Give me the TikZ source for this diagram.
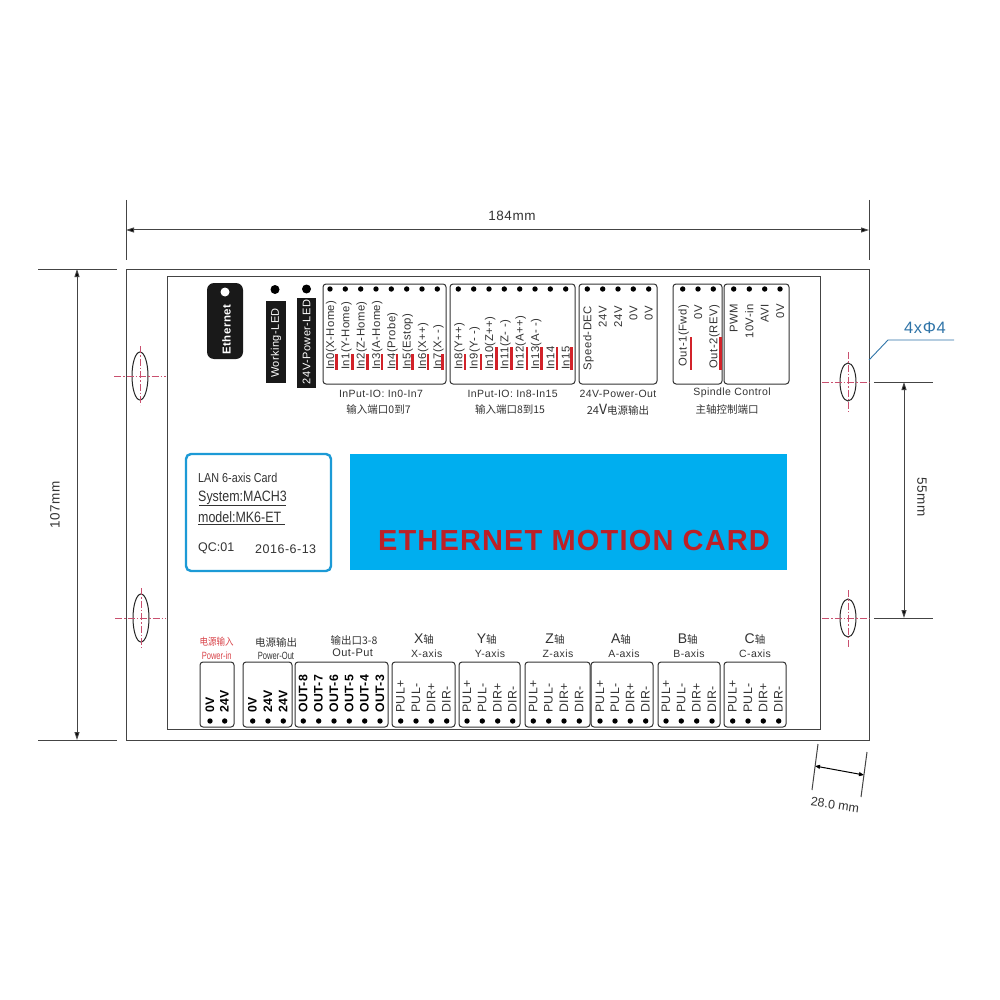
\documentclass[tikz,border=0pt]{standalone}
\usepackage{fontspec}
\usetikzlibrary{arrows.meta}
\setmainfont{Liberation Sans}
\newfontfamily\lbl[LetterSpace=4]{Liberation Sans}
\newfontfamily\narrowf[FakeStretch=0.72]{Liberation Sans}
\newfontfamily\cardf[FakeStretch=0.83]{Liberation Sans}
\newfontfamily\cjk{Noto Sans CJK SC}
\newfontfamily\cjkn[FakeStretch=0.85]{Noto Sans CJK SC}
\newcommand\fs[1]{\fontsize{#1}{#1}\selectfont}
\definecolor{edgeg}{HTML}{444444}
\definecolor{boxg}{HTML}{333333}
\definecolor{txtg}{HTML}{333333}
\definecolor{barred}{HTML}{D2232A}
\definecolor{cardblue}{HTML}{00AEEF}
\definecolor{labelblue}{HTML}{1C9AD6}
\definecolor{leaderblue}{HTML}{2F74A8}
\definecolor{centrecol}{HTML}{C9506F}
\tikzset{
  x=1pt,y=-1pt,
  outline/.style={draw=edgeg,line width=1pt},
  portbox/.style={draw=boxg,line width=1pt,rounded corners=3pt},
  pindot/.style={circle,fill=black,inner sep=0pt,minimum size=5.4pt},
  leddot/.style={circle,fill=black,inner sep=0pt,minimum size=9pt},
  pinup/.style={rotate=90,anchor=base west,inner sep=0pt,text=txtg,font=\lbl\fs{11.3}},
  pinend/.style={rotate=90,anchor=base east,inner sep=0pt,text=txtg,font=\lbl\fs{11.3}},
  pinbot/.style={rotate=90,anchor=base west,inner sep=0pt,text=txtg,font=\lbl\fs{12.3}},
  pinbold/.style={rotate=90,anchor=base west,inner sep=0pt,text=black,font=\lbl\bfseries\fs{12.3}},
  redbar/.style={fill=barred,draw=none},
  captext/.style={inner sep=0pt,text=txtg,font=\lbl\fs{10.5}},
  capcjk/.style={inner sep=0pt,text=txtg,font=\cjk\fs{10.5}},
  axcap/.style={inner sep=0pt,text=txtg,font=\lbl\fs{10.5}},
  dimline/.style={draw=edgeg,line width=1pt},
  dimarrow/.style={draw=edgeg,line width=1pt,{Triangle[length=8pt,width=5pt,fill=black]}-{Triangle[length=8pt,width=5pt,fill=black]}},
  dimtext/.style={inner sep=0pt,text=txtg,font=\lbl\fs{13.5}},
  centreline/.style={draw=centrecol,line width=0.9pt,dash pattern=on 7pt off 2pt on 1.5pt off 2pt},
  holeline/.style={draw=black!85,line width=1pt},
  cardtxt/.style={inner sep=0pt,anchor=west,text=txtg},
}
\begin{document}
\begin{tikzpicture}
\useasboundingbox[fill=white] (0,0) rectangle (1000,1000);
% plate
\draw[outline] (126,269) rectangle (869,740);
\draw[outline] (167,276) rectangle (820,729);
% mounting holes
\foreach \n/\cx/\cy/\ry/\xa/\xb/\ya/\yb in {a/140/376/24/114/166/346/405,b/141/618/24/115/166/588/648,c/848/382/19/822/872/352/412,d/848/618/19/822/872/590/648}{
  \draw[holeline] (\cx,\cy) ellipse [x radius=8pt,y radius=\ry pt];
  \draw[centreline] (\xa,\cy) -- (\xb,\cy);
  \draw[centreline] (\cx,\ya) -- (\cx,\yb);
}
% top dimension
\coordinate (ta) at (126,200); \coordinate (tb) at (126,260);
\coordinate (tc) at (869,200); \coordinate (td) at (869,260);
\coordinate (te) at (126,230); \coordinate (tf) at (869,230);
\draw[dimline] (ta) -- (tb); \draw[dimline] (tc) -- (td);
\draw[dimarrow] (te) -- (tf);
\node[dimtext] (w184) at (512,216) {184mm};
% left dimension
\coordinate (la) at (38,269); \coordinate (lb) at (117,269);
\coordinate (lc) at (38,740); \coordinate (ld) at (117,740);
\coordinate (le) at (77,269); \coordinate (lf) at (77,740);
\draw[dimline] (la) -- (lb); \draw[dimline] (lc) -- (ld);
\draw[dimarrow] (le) -- (lf);
\node[dimtext,rotate=90] (h107) at (55,505) {107mm};
% right dimension
\coordinate (ra) at (874,382); \coordinate (rb) at (933,382);
\coordinate (rc) at (874,618); \coordinate (rd) at (933,618);
\coordinate (re) at (904,382); \coordinate (rf) at (904,618);
\draw[dimline] (ra) -- (rb); \draw[dimline] (rc) -- (rd);
\draw[dimarrow] (re) -- (rf);
\node[dimtext,rotate=-90] (h55) at (922,497) {55mm};
% hole leader
\coordinate (ha) at (869,360); \coordinate (hb) at (888,340); \coordinate (hc) at (954,340);
\draw[leaderblue,line width=0.9pt] (ha) -- (hb) -- (hc);
\node[inner sep=0pt,text=leaderblue,font=\lbl\fs{16.5}] (holes) at (925,328) {4xΦ4};
% bottom-right dimension
\coordinate (ba) at (818,744); \coordinate (bb) at (812,790);
\coordinate (bc) at (867,752); \coordinate (bd) at (861,797);
\coordinate (be) at (815,766); \coordinate (bf) at (864,775);
\draw[dimline] (ba) -- (bb); \draw[dimline] (bc) -- (bd);
\draw[draw=black,line width=1pt,{Triangle[length=5pt,width=4pt]}-{Triangle[length=5pt,width=4pt]}] (be) -- (bf);
\node[inner sep=0pt,text=txtg,font=\fs{12.5},rotate=-8] (d28) at (835,805) {28.0 mm};
% LEDs
\node[draw=none,fill=black!90,rounded corners=7pt,minimum width=36pt,minimum height=76pt,inner sep=0pt] (eth) at (225,321) {};
\node[circle,fill=white,minimum size=9pt,inner sep=0pt] (ethled) at (225,292) {};
\node[rotate=90,inner sep=0pt,text=white,font=\lbl\bfseries\fs{11.5}] (ethtxt) at (226.5,329.5) {Ethernet};
\node[leddot] (wled) at (275,289.5) {};
\node[fill=black!90,minimum width=20pt,minimum height=82pt,inner sep=0pt] (wbox) at (276,342) {};
\node[rotate=90,inner sep=0pt,text=white,font=\lbl\fs{11}] (wtxt) at (276,343) {Working-LED};
\node[leddot] (pled) at (306.5,289) {};
\node[fill=black!90,minimum width=19pt,minimum height=90pt,inner sep=0pt] (pbox) at (306.5,343) {};
\node[rotate=90,inner sep=0pt,text=white,font=\lbl\fs{11}] (ptxt) at (306.5,342) {24V-Power-LED};
% top connectors
\draw[portbox] (323,284) rectangle (446,384);
\draw[portbox] (450,284) rectangle (575,384);
\draw[portbox] (579,284) rectangle (657,384);
\draw[portbox] (673,284) rectangle (722,384);
\draw[portbox] (724,284) rectangle (789,384);
\foreach \i/\x/\bx/\t in {0/330/336.7/In0(X-Home),1/345.3/352.7/In1(Y-Home),2/360.7/367.3/In2(Z-Home),3/376/382/In3(A-Home),4/391.3/397/In4(Probe),5/406.7/412.7/In5(Estop),6/422/428/In6(X++),7/437.3/442.7/In7(X- -)}{
  \node[pindot] (ia\i) at (\x,289) {};
  \node[pinup] (ila\i) at (\x+4,370) {\t};
  \fill[redbar] (\bx-1.3,354) rectangle (\bx+1.3,370);
}
\foreach \i/\x/\bx/\by/\t in {8/458.3/465/354/In8(Y++),9/473.7/481/354/In9(Y- -),10/489/496.7/347/In10(Z++),11/504.3/511.3/347/In11(Z- -),12/519.7/527/347/In12(A++),13/535/541.3/347/In13(A- -),14/550.3/557/347/In14,15/565.7/571.3/347/In15}{
  \node[pindot] (ib\i) at (\x,289) {};
  \node[pinup] (ilb\i) at (\x+4,370) {\t};
  \fill[redbar] (\bx-1.3,\by) rectangle (\bx+1.3,370);
}
\foreach \i/\x/\t in {1/587.3/Speed-DEC,2/602.7/24V,3/618/24V,4/633.3/0V,5/648.7/0V}{
  \node[pindot] (pa\i) at (\x,289) {};
  \node[pinend] (pl\i) at (\x+4,306) {\t};
}
\foreach \i/\x/\t in {1/682.7/Out-1(Fwd),2/698/0V,3/713.3/Out-2(REV)}{
  \node[pindot] (sa\i) at (\x,289) {};
  \node[pinend] (sl\i) at (\x+4,305) {\t};
}
\fill[redbar] (689.5,337) rectangle (692,370);
\fill[redbar] (718.5,337) rectangle (721.5,370);
\foreach \i/\x/\t in {1/733.7/PWM,2/749.3/10V-in,3/764.7/AVI,4/780/0V}{
  \node[pindot] (ca\i) at (\x,289) {};
  \node[pinend] (cl\i) at (\x+4,304) {\t};
}
% top captions
\node[captext] (c1) at (381,394) {InPut-IO: In0-In7};
\node[capcjk] (c1z) at (378.5,410) {输入端口0到7};
\node[captext] (c2) at (512.7,394) {InPut-IO: In8-In15};
\node[capcjk] (c2z) at (510,410) {输入端口8到15};
\node[captext] (c3) at (618,394) {24V-Power-Out};
\node[capcjk] (c3z) at (618,410) {\fs{11}24{\fs{14}V}\fs{10.5}电源输出};
\node[captext] (c4) at (732,393) {Spindle Control};
\node[capcjk] (c4z) at (727,410) {主轴控制端口};
% info card
\draw[draw=labelblue,line width=2.4pt,rounded corners=5pt] (186,454) rectangle (331,571);
\node[cardtxt,font=\cardf\fs{13}] (t1) at (198,478) {LAN 6-axis Card};
\node[cardtxt,font=\cardf\fs{15}] (t2) at (198,498) {System:MACH3};
\node[cardtxt,font=\cardf\fs{15}] (t3) at (198,517) {model:MK6-ET};
\coordinate (u1a) at (199,505); \coordinate (u1b) at (286,505);
\coordinate (u2a) at (198,524); \coordinate (u2b) at (285,524);
\draw[txtg,line width=0.8pt] (u1a) -- (u1b);
\draw[txtg,line width=0.8pt] (u2a) -- (u2b);
\node[cardtxt,font=\fs{12.5}] (t4) at (198,548) {QC:01};
\node[cardtxt,font=\lbl\fs{12.5}] (t5) at (255,549) {2016-6-13};
% title panel
\fill[cardblue] (350,454) rectangle (787,570);
\node[inner sep=0pt,text=barred!90!black,font=\lbl\bfseries\fs{29}] (title) at (574,541) {ETHERNET MOTION CARD};
% bottom connectors
\draw[portbox] (200,662) rectangle (234,727);
\draw[portbox] (243,662) rectangle (292,727);
\draw[portbox] (295,662) rectangle (388,727);
\draw[portbox] (392,662) rectangle (455,727);
\draw[portbox] (459,662) rectangle (520,727);
\draw[portbox] (525,662) rectangle (590,727);
\draw[portbox] (591,662) rectangle (653,727);
\draw[portbox] (658,662) rectangle (720,727);
\draw[portbox] (724,662) rectangle (786,727);
\foreach \i/\x/\t in {1/210/0V,2/224.7/24V,3/252.7/0V,4/268/24V,5/283.3/24V,6/303.3/OUT-8,7/318.7/OUT-7,8/334/OUT-6,9/349.3/OUT-5,10/364.7/OUT-4,11/380/OUT-3}{
  \node[pindot] (bd\i) at (\x,721) {};
  \node[pinbold] (bl\i) at (\x+4,713) {\t};
}
\foreach \a/\xa/\xb/\xc/\xd in {x/400.7/416/431.3/446.7,y/467/482.3/497.7/512.7,z/533.3/548.7/564/579.3,w/600/615/630.3/645.7,v/666/681.3/696.7/712,u/732.7/748/763.3/778.7}{
  \foreach \j/\x/\t in {1/\xa/PUL+,2/\xb/PUL-,3/\xc/DIR+,4/\xd/DIR-}{
    \node[pindot] (\a d\j) at (\x,721) {};
    \node[pinbot] (\a l\j) at (\x+4,713) {\t};
  }
}
% bottom captions
\node[inner sep=0pt,text=barred!85,font=\cjkn\fs{10}] (pi1) at (216.7,642) {电源输入};
\node[inner sep=0pt,text=barred!85,font=\narrowf\fs{10.5}] (pi2) at (216.7,655.5) {Power-in};
\node[capcjk,font=\cjk\fs{10.5}] (po1) at (276,642) {电源输出};
\node[inner sep=0pt,text=txtg,font=\narrowf\fs{10.5}] (po2) at (276,655.5) {Power-Out};
\node[capcjk,font=\cjk\fs{10.5}] (ou1) at (354,640) {输出口3-8};
\node[axcap,font=\lbl\fs{11}] (ou2) at (352.7,653) {Out-Put};
\foreach \a/\xa/\xb/\l in {x/424/426.7/X,y/486.7/490/Y,z/555/558/Z,w/621/624/A,v/687.7/689/B,u/755/755/C}{
  \node[inner sep=0pt,text=txtg] (\a a1) at (\xa,639) {\fs{14}\l{\cjk\fs{10.5}轴}};
  \node[axcap] (\a a2) at (\xb,654) {\l-axis};
}
\end{tikzpicture}
\end{document}
